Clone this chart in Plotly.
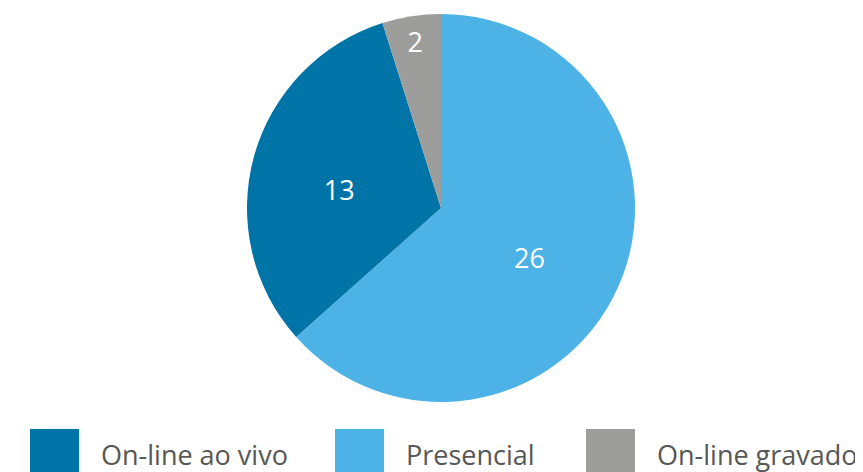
import plotly.graph_objects as go

# Data (pie order, clockwise from 12 o'clock)
pie_labels = ["Presencial", "On-line ao vivo", "On-line gravado"]
pie_values = [26, 13, 2]
pie_colors = ["#4DB3E6", "#0073A7", "#9D9D9C"]

# Legend order
legend_labels = ["On-line ao vivo", "Presencial", "On-line gravado"]
color_map = dict(zip(pie_labels, pie_colors))

OFF = 8           # page body margin
W, H = 863 - OFF, 472 - OFF


def fx(px):
    return (px - OFF) / W


def fy(py):
    return (H - (py - OFF)) / H


# a small blank first line nudges the value text down in the large slices
big_tpl = "<span style='font-size:12px'> </span><br>%{value}"
templates = [big_tpl if v >= 5 else "%{value}" for v in pie_values]

fig = go.Figure()
fig.add_trace(go.Pie(
    labels=pie_labels,
    values=pie_values,
    sort=False,
    direction="clockwise",
    rotation=0,
    marker=dict(colors=pie_colors, line=dict(width=0)),
    texttemplate=templates,
    textposition="inside",
    insidetextorientation="horizontal",
    textfont=dict(color="white", size=27, family="Open Sans"),
    domain=dict(x=[fx(247), fx(635)], y=[fy(402), fy(14)]),
    showlegend=False,
    hoverinfo="label+value",
))

# Custom legend: large squares + labels
legend_x = [30, 335, 586]   # left edges of squares in px
sq_w = 49
sq_top = 429
shapes = []
annotations = []
for lbl, x0 in zip(legend_labels, legend_x):
    shapes.append(dict(
        type="rect", xref="paper", yref="paper",
        x0=fx(x0), x1=fx(x0 + sq_w),
        y0=0, y1=fy(sq_top),
        fillcolor=color_map[lbl], line=dict(width=0),
    ))
    annotations.append(dict(
        text=lbl, xref="paper", yref="paper",
        x=fx(x0 + sq_w + 20), y=fy(454),
        xanchor="left", yanchor="middle", showarrow=False,
        font=dict(family="Open Sans", size=27, color="#575756"),
    ))

fig.update_layout(
    width=W, height=H,
    margin=dict(l=0, r=0, t=0, b=0),
    paper_bgcolor="white",
    plot_bgcolor="white",
    shapes=shapes,
    annotations=annotations,
)

fig.write_html("out.html")
